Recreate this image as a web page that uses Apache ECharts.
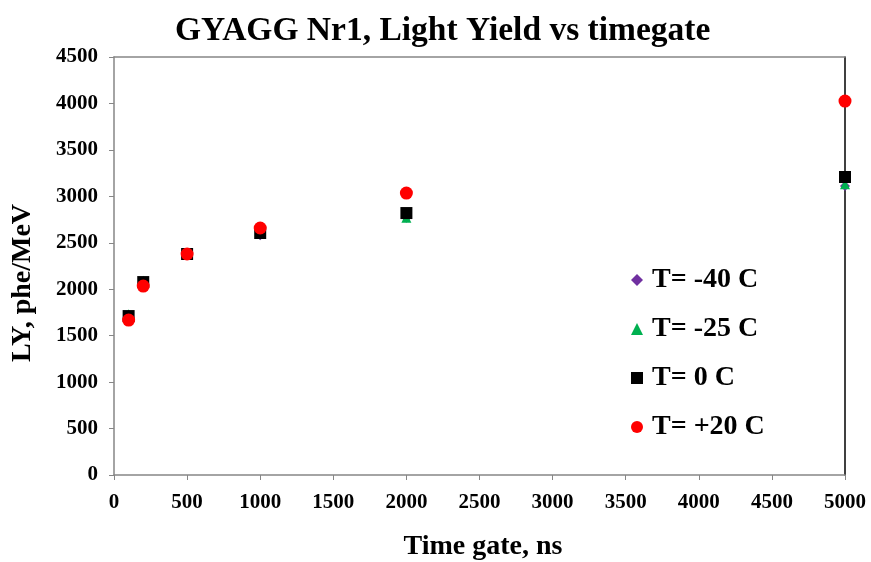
<!DOCTYPE html>
<html><head><meta charset="utf-8">
<script src="https://cdn.jsdelivr.net/npm/echarts@6/dist/echarts.min.js"></script>
<style>html,body{margin:0;padding:0;background:#fff}#c{width:871px;height:562px}</style>
</head><body><div id="c"></div>
<script>
const timeGates = [100, 200, 500, 1000, 2000, 5000];
const ly_m40 = [1710, 2070, 2370, 2580, 2770, 3110];
const ly_m25 = [1730, 2090, 2380, 2600, 2770, 3130];
const ly_0   = [1711, 2077, 2379, 2605, 2820, 3208];
const ly_p20 = [1668, 2034, 2379, 2659, 3035, 4026];
const seriesNames = ['T= -40 C', 'T= -25 C', 'T= 0 C', 'T= +20 C'];
const xTicks = [0, 500, 1000, 1500, 2000, 2500, 3000, 3500, 4000, 4500, 5000];
const yTicks = [0, 500, 1000, 1500, 2000, 2500, 3000, 3500, 4000, 4500];

const F = 'Liberation Serif';
const pair = arr => timeGates.map((t, i) => [t, arr[i]]);
const chart = echarts.init(document.getElementById('c'));
const labelStyle = {fontFamily: F, fontWeight: 'bold', fontSize: 21, color: '#000', formatter: v => String(v)};
chart.setOption({
  animation: false,
  title: {text: 'GYAGG Nr1, Light Yield vs timegate', left: 170, top: 9,
    textStyle: {fontFamily: F, fontWeight: 'bold', fontSize: 33.5, color: '#000'}},
  grid: {left: 114, right: 26, top: 57, bottom: 87, containLabel: false, outerBoundsMode: 'none'},
  xAxis: [{
    type: 'value', min: xTicks[0], max: xTicks[xTicks.length - 1], interval: 500,
    name: 'Time gate, ns', nameLocation: 'middle', nameGap: 58,
    nameTextStyle: {fontFamily: F, fontWeight: 'bold', fontSize: 28, color: '#000', padding: [0, 0, 0, 7]},
    axisLine: {lineStyle: {color: '#868686', width: 1.5}},
    axisTick: {show: true, length: 5, lineStyle: {color: '#868686'}},
    axisLabel: Object.assign({margin: 17}, labelStyle),
    splitLine: {show: false}
  }, {
    type: 'value', position: 'top', min: 0, max: 5000,
    axisLine: {show: true, onZero: false, lineStyle: {color: '#868686', width: 1.5}},
    axisTick: {show: false}, axisLabel: {show: false}, splitLine: {show: false}
  }],
  yAxis: [{
    type: 'value', min: yTicks[0], max: yTicks[yTicks.length - 1], interval: 500,
    name: 'LY, phe/MeV', nameLocation: 'middle', nameGap: 77,
    nameTextStyle: {fontFamily: F, fontWeight: 'bold', fontSize: 28, color: '#000', padding: [0, 34, 0, 0]},
    axisLine: {show: true, lineStyle: {color: '#868686', width: 1.5}},
    axisTick: {show: true, length: 5, lineStyle: {color: '#868686'}},
    axisLabel: Object.assign({margin: 16}, labelStyle),
    splitLine: {show: false}
  }, {
    type: 'value', position: 'right', min: 0, max: 4500,
    axisLine: {show: true, onZero: false, lineStyle: {color: '#000', width: 1.5}},
    axisTick: {show: false}, axisLabel: {show: false}, splitLine: {show: false}
  }],
  legend: {
    orient: 'vertical', left: 626, top: 261, itemGap: 21, itemWidth: 12, itemHeight: 12,
    textStyle: {fontFamily: F, fontWeight: 'bold', fontSize: 28, lineHeight: 28, color: '#000', padding: [0, 0, 0, 4]},
    data: [
      {name: seriesNames[0], icon: 'diamond', itemStyle: {color: '#7030a0', opacity: 1}},
      {name: seriesNames[1], icon: 'triangle', itemStyle: {color: '#00b050', opacity: 1}},
      {name: seriesNames[2], icon: 'rect', itemStyle: {color: '#000', opacity: 1}},
      {name: seriesNames[3], icon: 'circle', itemStyle: {color: '#ff0000', opacity: 1}}
    ]
  },
  series: [
    {name: seriesNames[0], type: 'scatter', symbol: 'diamond', symbolSize: 10, itemStyle: {color: '#7030a0', opacity: 1}, data: pair(ly_m40)},
    {name: seriesNames[1], type: 'scatter', symbol: 'triangle', symbolSize: 10, itemStyle: {color: '#00b050', opacity: 1}, data: pair(ly_m25)},
    {name: seriesNames[2], type: 'scatter', symbol: 'rect', symbolSize: 12, itemStyle: {color: '#000', opacity: 1}, data: pair(ly_0)},
    {name: seriesNames[3], type: 'scatter', symbol: 'circle', symbolSize: 13, itemStyle: {color: '#ff0000', opacity: 1}, data: pair(ly_p20)}
  ]
});
</script></body></html>
